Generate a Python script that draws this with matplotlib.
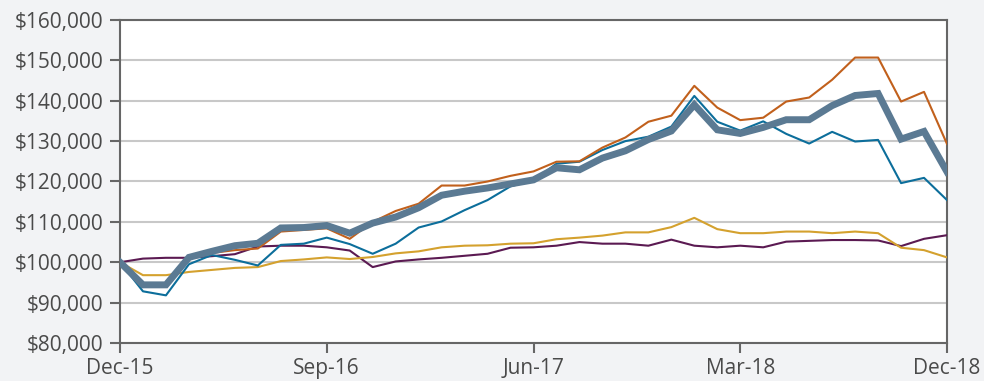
import matplotlib
matplotlib.use("Agg")
import matplotlib.pyplot as plt
from matplotlib.ticker import FuncFormatter, MultipleLocator

# Month-end growth of a $100,000 investment, Dec-15 through Dec-18
months = list(range(37))
tick_positions = [0, 9, 18, 27, 36]
tick_labels = ["Dec-15", "Sep-16", "Jun-17", "Mar-18", "Dec-18"]

fund = [100000, 94400, 94400, 101200, 102700, 104100, 104700, 108500, 108600,
        109100, 107200, 109700, 111200, 113500, 116600, 117600, 118400, 119400,
        120400, 123400, 122900, 125800, 127600, 130400, 132500, 139000, 132800,
        131900, 133400, 135300, 135300, 138800, 141300, 141800, 130500, 132400,
        122400]

orange = [100000, 94400, 94400, 101000, 102300, 103000, 103400, 107600, 108000,
          108400, 105800, 110000, 112700, 114500, 119000, 119000, 120000, 121400,
          122500, 124900, 125000, 128400, 130900, 134800, 136300, 143700, 138300,
          135200, 135800, 139800, 140800, 145200, 150700, 150700, 139800, 142200,
          129300]

blue = [100000, 92800, 91800, 99500, 101800, 100600, 99200, 104300, 104600,
        106100, 104500, 102100, 104600, 108600, 110100, 112900, 115400, 118800,
        120300, 124400, 124900, 127800, 130000, 131100, 133600, 141200, 134800,
        132600, 134900, 131800, 129400, 132300, 129900, 130300, 119600, 120900,
        115400]

gold = [100000, 96800, 96800, 97600, 98100, 98600, 98800, 100300, 100700,
        101200, 100800, 101300, 102200, 102700, 103700, 104100, 104200, 104600,
        104700, 105700, 106100, 106600, 107400, 107400, 108700, 111000, 108200,
        107200, 107200, 107600, 107600, 107200, 107600, 107200, 103600, 103000,
        101200]

purple = [100000, 100900, 101100, 101100, 101500, 102000, 103900, 104100, 104100,
          103700, 102900, 98800, 100200, 100700, 101100, 101600, 102100, 103600,
          103700, 104100, 105000, 104600, 104600, 104100, 105600, 104100, 103700,
          104100, 103700, 105100, 105300, 105500, 105500, 105400, 104000, 105800,
          106700]

plt.rcParams["font.family"] = ["Open Sans", "DejaVu Sans"]

bg = "#f2f3f5"
fig = plt.figure(figsize=(9.84, 3.81), dpi=100, facecolor=bg)
ax = fig.add_axes([120 / 984, 1 - 343 / 381, 827 / 984, 323 / 381])
ax.set_facecolor("white")

ax.plot(months, purple, color="#5b1a52", lw=1.5, zorder=3)
ax.plot(months, gold, color="#d4a12e", lw=1.5, zorder=3)
ax.plot(months, blue, color="#0c6e9b", lw=1.5, zorder=3)
ax.plot(months, orange, color="#c1601c", lw=1.5, zorder=3)
ax.plot(months, fund, color="#5b7a93", lw=5, zorder=4,
        solid_joinstyle="miter")

ax.set_xlim(0, 36)
ax.set_ylim(80000, 160000)
ax.yaxis.set_major_locator(MultipleLocator(10000))
ax.yaxis.set_major_formatter(FuncFormatter(lambda v, p: f"${v:,.0f}"))
ax.set_xticks(tick_positions)
ax.set_xticklabels(tick_labels)

ax.grid(axis="y", color="#c8c8c8", lw=1.5, zorder=1)
ax.set_axisbelow(True)

for s in ax.spines.values():
    s.set_color("#666666")
    s.set_linewidth(1.5)

ax.tick_params(axis="both", colors="#666666", length=7, width=1.5,
               labelsize=15, labelcolor="#4a4a4a")
ax.tick_params(axis="y", pad=5)
ax.tick_params(axis="x", pad=4)

fig.savefig("out.png", dpi=100, facecolor=bg)
